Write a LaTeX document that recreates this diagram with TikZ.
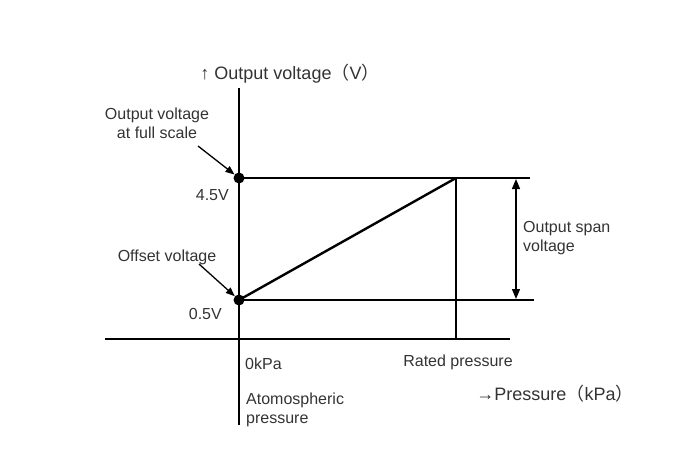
\documentclass[tikz,border=0pt]{standalone}
\usepackage{fontspec}
\usetikzlibrary{arrows.meta}
\setmainfont{Liberation Sans}
\newfontfamily\cjkparen{Noto Sans CJK JP}
\newcommand{\lp}{{\cjkparen （}}
\newcommand{\rp}{{\cjkparen ）}}

\begin{document}
\begin{tikzpicture}[x=1pt, y=-1pt,
    every node/.style={font=\fontsize{16}{19}\selectfont, text=black!80, inner sep=0pt},
    axisline/.style={line width=1.3pt},
    guide/.style={line width=1.2pt},
    dot/.style={circle, fill=black, minimum size=11pt},
    note/.style={align=left, anchor=west},
    pointer/.style={line width=1.3pt, -{Triangle[length=9pt, width=7pt]}}]
    \useasboundingbox (0,0) rectangle (678,452);

    % axes
    \coordinate (ytop) at (239,88);
    \coordinate (ybot) at (239,425);
    \coordinate (xleft) at (105,339);
    \coordinate (xright) at (510,339);
    \draw [axisline] (ytop) -- (ybot);
    \draw [axisline] (xleft) -- (xright);

    % levels and rated pressure
    \node [dot] (full) at (239,178) {};
    \node [dot] (offset) at (239,300) {};
    \coordinate (rated) at (456,178);
    \coordinate (ratedfoot) at (456,339);
    \coordinate (fullend) at (530,178);
    \coordinate (offsetend) at (534,300);
    \draw [guide] (full.center) -- (fullend);
    \draw [guide] (offset.center) -- (offsetend);
    \draw [guide] (rated) -- (ratedfoot);
    \draw [line width=2.4pt] (offset.center) -- (rated);

    % span arrow
    \coordinate (spantop) at (516,179);
    \coordinate (spanbot) at (516,299);
    \draw [line width=1.3pt, {Triangle[length=10pt, width=8pt]}-{Triangle[length=10pt, width=8pt]}] (spantop) -- (spanbot);

    % labels
    \node (title) at (290,74) {\fontsize{18}{22}\selectfont ↑ Output voltage\lp V\rp};
    \node [align=center] (fulltxt) at (157,123) {Output voltage\\at full scale};
    \node [anchor=east] (v45) at (229,195) {4.5V};
    \node (offtxt) at (167,257) {Offset voltage};
    \node [anchor=east] (v05) at (222,314) {0.5V};
    \node [note] (zero) at (245,364) {0kPa};
    \node [note] (atmo) at (246,410) {Atomospheric\\pressure};
    \node (ratedtxt) at (458,362) {Rated pressure};
    \node [note] (spantxt) at (523,238) {Output span\\voltage};
    \node (xtitle) at (555,394) {\fontsize{18}{22}\selectfont →Pressure\lp kPa\rp};

    % pointers
    \draw [pointer] (198,146) -- (full);
    \draw [pointer] (199,264) -- (offset);
\end{tikzpicture}
\end{document}
